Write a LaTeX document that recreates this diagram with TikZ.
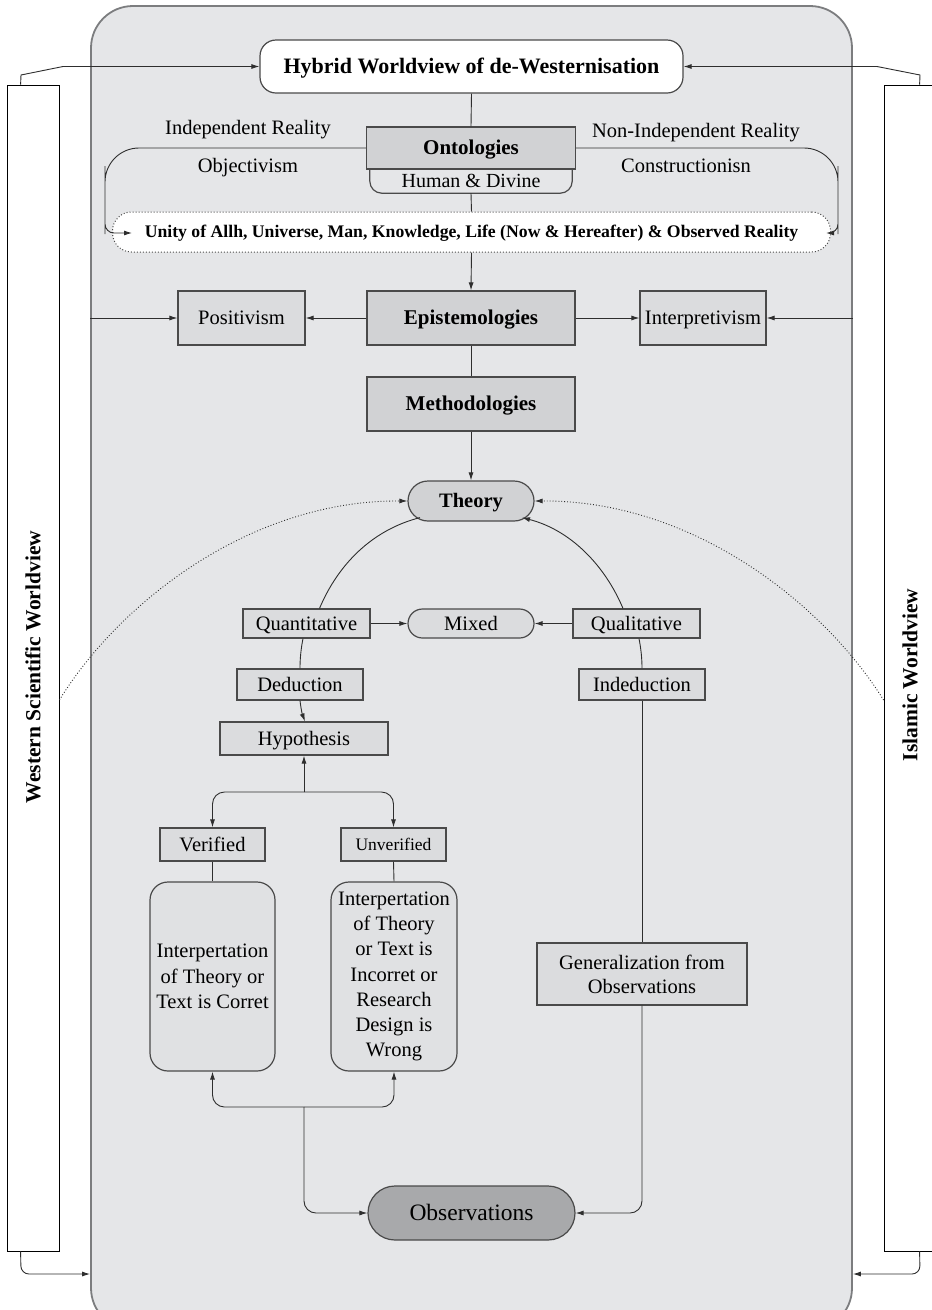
\documentclass[tikz,border=0pt]{standalone}
\usepackage{fontspec}
\setmainfont{Liberation Serif}
\usetikzlibrary{arrows.meta,calc}
\definecolor{panelc}{HTML}{E5E6E8}
\definecolor{panelb}{HTML}{7C7D7F}
\definecolor{darkf}{HTML}{D1D2D4}
\definecolor{midf}{HTML}{DBDCDE}
\definecolor{bigf}{HTML}{E0E1E3}
\definecolor{obsf}{HTML}{A8A9AB}
\definecolor{bordc}{HTML}{4A4A4A}
\definecolor{linec}{HTML}{2E2E2E}
\newcommand\fsz[2]{\fontsize{#1pt}{#2pt}\selectfont}
\begin{document}
\begin{tikzpicture}[x=1pt,y=-1pt,
  bx/.style={draw=bordc, line width=1.2pt, inner sep=0pt, align=center, font=\fsz{20.5}{25.5}, fill=midf},
  ctr/.style={text height=#1, text depth=0pt},
  ctr/.default=13.5pt,
  dk/.style={bx, ctr=13.9pt, fill=darkf, font=\fsz{21}{25}\bfseries},
  arr/.style={-{Latex[length=8pt,width=5pt]}, line width=0.9pt, draw=linec},
  ln/.style={line width=0.9pt, draw=linec},
  lbl/.style={inner sep=0pt, font=\fsz{20.5}{25}},
  bar/.style={draw=black, line width=0.8pt, fill=white, minimum width=52pt, minimum height=1166pt, inner sep=0pt},
  sidetxt/.style={rotate=90, inner sep=0pt, font=\fsz{21.5}{25}\bfseries}]
\useasboundingbox (0,0) rectangle (932,1310);
\clip (0,0) rectangle (932,1310);
\fill[white] (0,0) rectangle (932,1310);

% side bars and panel
\node[bar] (lbar) at (33,668) {};
\node[bar] (rbar) at (910,668) {};
\node[sidetxt] (wtxt) at (33,667) {Western Scientific Worldview};
\node[sidetxt] (itxt) at (910,675) {Islamic Worldview};
\node[draw=panelb, line width=1.8pt, fill=panelc, rounded corners=42pt, minimum width=761pt, minimum height=1324pt, inner sep=0pt] (panel) at (471.5,668) {};

% top
\node[bx, ctr=14.5pt, fill=white, rounded corners=16pt, minimum width=423pt, minimum height=53pt, font=\fsz{22}{26}\bfseries] (hyb) at (471.5,66.5) {Hybrid Worldview of de-Westernisation};
\node[inner sep=0pt, ctr=13.2pt, minimum width=202pt, minimum height=24pt, font=\fsz{20}{24}] (human) at (471,181) {Human \& Divine};
\draw[draw=bordc, line width=1.2pt] (human.north west) [rounded corners=12pt] -- (human.south west) -- (human.south east) -- (human.north east);
\node[dk, minimum width=209pt, minimum height=42pt] (onto) at (471,148) {Ontologies};
\node[draw=bordc, line width=1pt, dotted, fill=white, rounded corners=19pt, minimum width=718pt, minimum height=40pt, inner sep=0pt, ctr=11.7pt, font=\fsz{17.7}{21}\bfseries] (unity) at (471.5,232) {Unity of Allh, Universe, Man, Knowledge, Life (Now \& Hereafter) \& Observed Reality};

\node[lbl] (indep) at (248,130) {Independent Reality};
\node[lbl] (objv) at (248,168) {Objectivism};
\node[lbl] (nonind) at (696,133) {Non-Independent Reality};
\node[lbl] (constr) at (686,166) {Constructionisn};

\node[dk, minimum width=208pt, minimum height=54pt] (epist) at (471,318) {Epistemologies};
\node[bx, ctr, minimum width=127pt, minimum height=54pt] (posit) at (241.5,318) {Positivism};
\node[bx, ctr, minimum width=126pt, minimum height=54pt] (interp) at (703,318) {Interpretivism};
\node[dk, minimum width=208pt, minimum height=54pt] (meth) at (471,404) {Methodologies};

\node[dk, ctr=13.5pt, rounded corners=20pt, minimum width=126pt, minimum height=40pt, font=\fsz{20.5}{25}\bfseries] (theory) at (471,501) {Theory};

\node[bx, ctr, minimum width=127pt, minimum height=29pt] (quant) at (306.5,623.5) {Quantitative};
\node[bx, ctr, rounded corners=14.5pt, minimum width=126pt, minimum height=29pt] (mixed) at (471,623.5) {Mixed};
\node[bx, ctr, minimum width=127pt, minimum height=29pt] (qual) at (636.5,623.5) {Qualitative};
\node[bx, ctr, minimum width=126pt, minimum height=31pt] (ded) at (300,684.5) {Deduction};
\node[bx, ctr, minimum width=126pt, minimum height=31pt] (indd) at (642,684.5) {Indeduction};
\node[bx, ctr, minimum width=168pt, minimum height=33pt] (hyp) at (304,738.5) {Hypothesis};
\node[bx, ctr, minimum width=105pt, minimum height=33pt] (ver) at (212.5,844.5) {Verified};
\node[bx, ctr=11.6pt, minimum width=105pt, minimum height=33pt, font=\fsz{17.5}{21}] (unver) at (393.5,844.5) {Unverified};
\node[bx, fill=bigf, rounded corners=18pt, minimum width=125pt, minimum height=189pt] (lbox) at (212.5,976.5) {Interpertation\\of Theory or\\Text is Corret};
\node[bx, fill=bigf, rounded corners=18pt, minimum width=126pt, minimum height=189pt, font=\fsz{20.5}{25.3}] (rbox) at (394,976.5) {Interpertation\\of Theory\\or Text is\\Incorret or\\Research\\Design is\\Wrong};
\node[bx, minimum width=210pt, minimum height=62pt, font=\fsz{20.5}{24}] (gen) at (642,974) {Generalization from\\Observations};
\node[bx, ctr=15.5pt, fill=obsf, rounded corners=27pt, minimum width=207pt, minimum height=54pt, font=\fsz{23.5}{28}] (obs) at (471.5,1213) {Observations};

% side connectors
\draw[arr] ($(lbar.north west)+(14,0)$) -- (21,75) -- (63,66.5) -- (hyb.west);
\draw[arr] ($(rbar.north west)+(36,0)$) -- (920,75) -- (877,66.5) -- (hyb.east);
\draw[arr, rounded corners=8pt] ($(lbar.south west)+(14,0)$) -- (21,1274) -- (panel.west |- 0,1274);
\draw[arr, rounded corners=8pt] ($(rbar.south west)+(36,0)$) -- (920,1274) -- (panel.east |- 0,1274);

% ontology connectors
\draw[ln] (hyb.south) -- (onto.north);
\draw[ln] (human.south) -- (unity.north);
\coordinate (uleft) at (132,233);
\coordinate (uright) at (826,233);
\draw[arr] (onto.west) [rounded corners=34pt] -- (105,148) -- (105,200) [rounded corners=9pt] -- (105,233) -- (uleft);
\draw[arr] (onto.east) [rounded corners=34pt] -- (838,148) -- (838,200) [rounded corners=9pt] -- (838,233) -- (uright);

\draw[arr] (unity.south) -- (epist.north);
\draw[arr] (epist.west) -- (posit.east);
\draw[arr] (epist.east) -- (interp.west);
\draw[arr] (panel.west |- posit.west) -- (posit.west);
\draw[arr] (panel.east |- interp.east) -- (interp.east);
\draw[ln] (epist.south) -- (meth.north);
\draw[arr] (meth.south) -- (theory.north);

% dotted arcs
\draw[arr, dotted] (lbar.east |- 0,700) .. controls (119,603) and (250,500) .. (theory.west);
\draw[arr, dotted] (rbar.west |- 0,700) .. controls (823,603) and (692,500) .. (theory.east);

% solid arcs
\draw[ln] ($(theory.south)+(-51,-4)$) .. controls +(-47,12) and +(19,-45) .. ($(quant.north)+(13,0)$);
\draw[ln] ($(quant.south)+(-3.5,0)$) .. controls +(-2,10) and +(0,-10) .. (ded.north);
\draw[arr] (ded.south) .. controls +(1,8) and +(-3,-8) .. ($(hyp.north)+(1,0)$);
\draw[arr] ($(qual.north)+(-13.5,0)$) .. controls +(-19,-45) and +(47,12) .. ($(theory.south)+(51,-4)$);
\draw[ln] ($(qual.south)+(2.5,0)$) .. controls +(2,10) and +(0,-10) .. (indd.north);

\draw[arr] (quant.east) -- (mixed.west);
\draw[arr] (qual.west) -- (mixed.east);

% hypothesis branches
\coordinate (hb) at (304,792);
\draw[arr] (hb) -- (hyp.south);
\draw[arr, rounded corners=12pt] (hb) -| (ver.north);
\draw[arr, rounded corners=12pt] (hb) -| (unver.north);
\draw[ln] (ver.south) -- (lbox.north);
\draw[ln] (unver.south) -- (rbox.north);

% bottom branches
\coordinate (bb) at (304,1107);
\draw[arr, rounded corners=12pt] (bb) -| (lbox.south);
\draw[arr, rounded corners=12pt] (bb) -| (rbox.south);
\draw[arr, rounded corners=12pt] (bb) |- (obs.west);

% right column
\draw[ln] (indd.south) -- (gen.north);
\draw[arr, rounded corners=12pt] (gen.south) |- (obs.east);
\end{tikzpicture}
\end{document}
